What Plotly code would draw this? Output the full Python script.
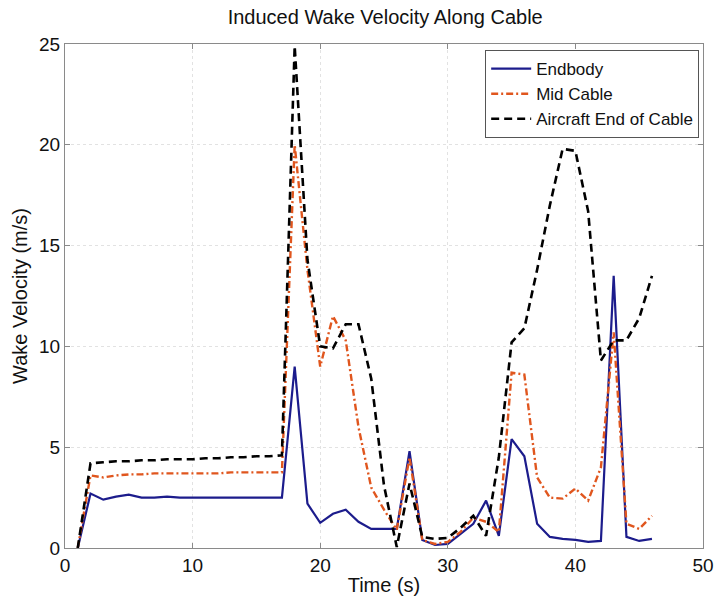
import plotly.graph_objects as go

# Sample times (s)
time_s = list(range(1, 47))

# Induced wake velocity (m/s) at three stations along the cable
endbody = [0.0, 2.7, 2.4, 2.55, 2.65, 2.5, 2.5, 2.55, 2.5, 2.5, 2.5, 2.5, 2.5, 2.5, 2.5, 2.5, 2.5,
           9.0, 2.2, 1.25, 1.7, 1.9, 1.3, 0.95, 0.95, 0.95, 4.8, 0.4, 0.15, 0.2, 0.7, 1.2, 2.35,
           0.6, 5.4, 4.55, 1.2, 0.55, 0.45, 0.4, 0.3, 0.35, 13.5, 0.55, 0.35, 0.45]
mid_cable = [0.0, 3.6, 3.5, 3.6, 3.65, 3.65, 3.7, 3.7, 3.7, 3.7, 3.7, 3.7, 3.75, 3.75, 3.75, 3.75, 3.75,
             20.0, 13.8, 9.0, 11.5, 10.3, 6.0, 3.0, 1.9, 0.9, 4.5, 0.4, 0.2, 0.3, 0.8, 1.5, 1.3,
             0.8, 8.7, 8.6, 3.5, 2.5, 2.45, 2.95, 2.35, 4.0, 10.7, 1.2, 0.95, 1.6]
aircraft_end = [0.0, 4.2, 4.25, 4.3, 4.3, 4.35, 4.35, 4.4, 4.4, 4.4, 4.45, 4.45, 4.5, 4.5, 4.55, 4.55, 4.6,
                24.9, 14.3, 10.0, 9.9, 11.1, 11.1, 8.4, 3.1, 0.05, 3.2, 0.55, 0.45, 0.5, 1.0, 1.6, 0.6,
                4.5, 10.2, 10.9, 13.8, 17.0, 19.8, 19.7, 16.7, 9.3, 10.3, 10.3, 11.4, 13.5]

x_ticks = [0, 10, 20, 30, 40, 50]
y_ticks = [0, 5, 10, 15, 20, 25]

FONT = "Liberation Sans, Arial, Helvetica, sans-serif"
AXIS_GRAY = "#8a8a8a"
TEXT = "#111111"

fig = go.Figure()
fig.add_trace(go.Scatter(x=time_s, y=endbody, mode="lines", name="Endbody",
                         line=dict(color="#1c1c8c", width=2.2)))
fig.add_trace(go.Scatter(x=time_s, y=mid_cable, mode="lines", name="Mid Cable",
                         line=dict(color="#e0561e", width=2.4, dash="7px,3px,2px,3px")))
fig.add_trace(go.Scatter(x=time_s, y=aircraft_end, mode="lines", name="Aircraft End of Cable",
                         line=dict(color="#000000", width=2.6, dash="8px,5px")))

axis_common = dict(
    showline=True, linecolor=AXIS_GRAY, linewidth=1, mirror="ticks",
    ticks="inside", ticklen=5, tickcolor=AXIS_GRAY,
    showgrid=True, gridcolor="#e2e2e2", griddash="dot", gridwidth=1,
    zeroline=False, automargin=False,
    tickfont=dict(family=FONT, size=19, color=TEXT),
)

fig.update_layout(
    width=716, height=602,
    margin=dict(l=65, r=13, t=44, b=54),
    paper_bgcolor="white", plot_bgcolor="white",
    font=dict(family=FONT, color=TEXT),
    title=dict(text="Induced Wake Velocity Along Cable", x=0.538, xanchor="center",
               y=0.972, yanchor="middle", font=dict(family=FONT, size=20, color=TEXT)),
    xaxis=dict(range=[0, 50], tickvals=x_ticks, ticktext=[str(v) for v in x_ticks],
               title=dict(text="Time (s)", font=dict(family=FONT, size=20), standoff=3),
               **axis_common),
    yaxis=dict(range=[0, 25], tickvals=y_ticks, ticktext=[str(v) for v in y_ticks],
               title=dict(text="Wake Velocity (m/s)", font=dict(family=FONT, size=20), standoff=6),
               **axis_common),
    legend=dict(x=0.994, xanchor="right", y=0.988, yanchor="top",
                bgcolor="white", bordercolor="#555555", borderwidth=1,
                font=dict(family=FONT, size=17, color=TEXT),
                tracegroupgap=0, itemwidth=40),
    showlegend=True,
)

fig.write_html("out.html")
